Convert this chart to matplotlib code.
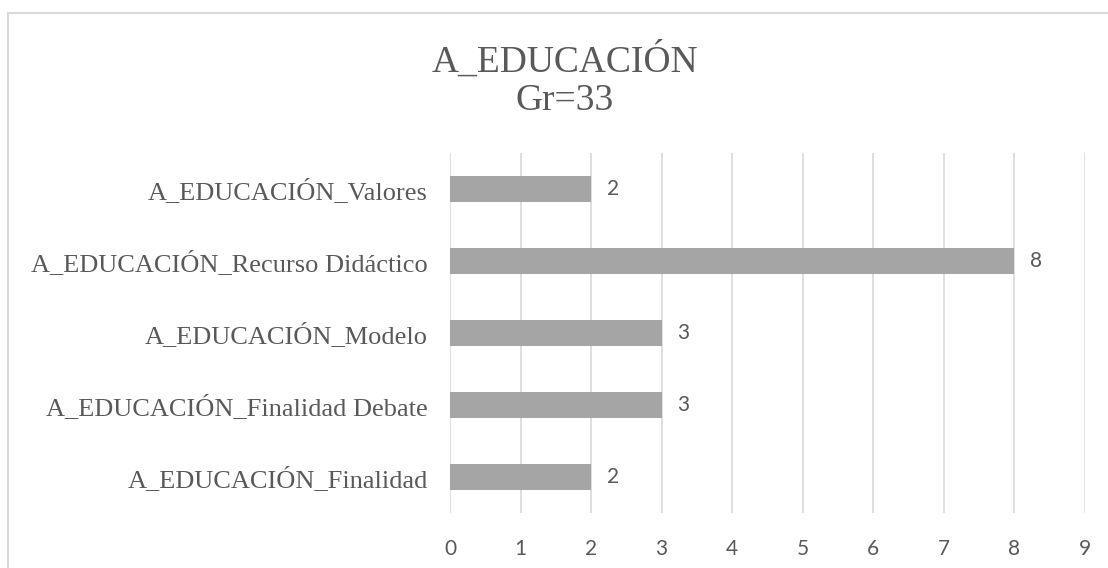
import matplotlib
matplotlib.use('Agg')
import matplotlib.pyplot as plt
from matplotlib.patches import Rectangle

categories = ['A_EDUCACIÓN_Valores', 'A_EDUCACIÓN_Recurso Didáctico', 'A_EDUCACIÓN_Modelo',
              'A_EDUCACIÓN_Finalidad Debate', 'A_EDUCACIÓN_Finalidad']
values = [2, 8, 3, 3, 2]
xticks = list(range(10))
title_lines = ['A_EDUCACIÓN', 'Gr=33']

W, H = 1108, 568
fig = plt.figure(figsize=(W / 100, H / 100), dpi=100)
text_col = '#595959'

# chart-area border (right/bottom sides fall outside the image)
fig.patches.append(Rectangle((8 / W, -0.1), 1.2, 1 - 13 / H + 0.1, transform=fig.transFigure,
                             fill=False, edgecolor='#D9D9D9', linewidth=1.5))

ax = fig.add_axes([450 / W, 1 - 513 / H, 635 / W, 360 / H])
ypos = list(range(len(categories)))[::-1]
ax.barh(ypos, values, height=0.36, color='#A5A5A5', zorder=3)
for y, v in zip(ypos, values):
    ax.text(v + 0.22, y, str(v), va='center', ha='left', fontsize=15,
            family='Lato', color=text_col)

ax.set_xlim(0, 9)
ax.set_ylim(-0.5, len(categories) - 0.5)
ax.set_xticks(xticks)
ax.set_xticklabels([str(t) for t in xticks], family='Lato', fontsize=15, color=text_col)
ax.set_yticks(ypos)
ax.set_yticklabels(categories, family='Liberation Serif', fontsize=19, color=text_col)
ax.tick_params(axis='x', length=0, pad=19)
ax.tick_params(axis='y', length=0, pad=16)
ax.grid(axis='x', color='#D9D9D9', linewidth=1.2, zorder=0)
for s in ax.spines.values():
    s.set_visible(False)

fig.text(565 / W, 1 - 72 / H, title_lines[0], ha='center', va='baseline',
         family='Liberation Serif', fontsize=27, color=text_col)
fig.text(565 / W, 1 - 110 / H, title_lines[1], ha='center', va='baseline',
         family='Liberation Serif', fontsize=27, color=text_col)

fig.savefig('out.png', dpi=100)
